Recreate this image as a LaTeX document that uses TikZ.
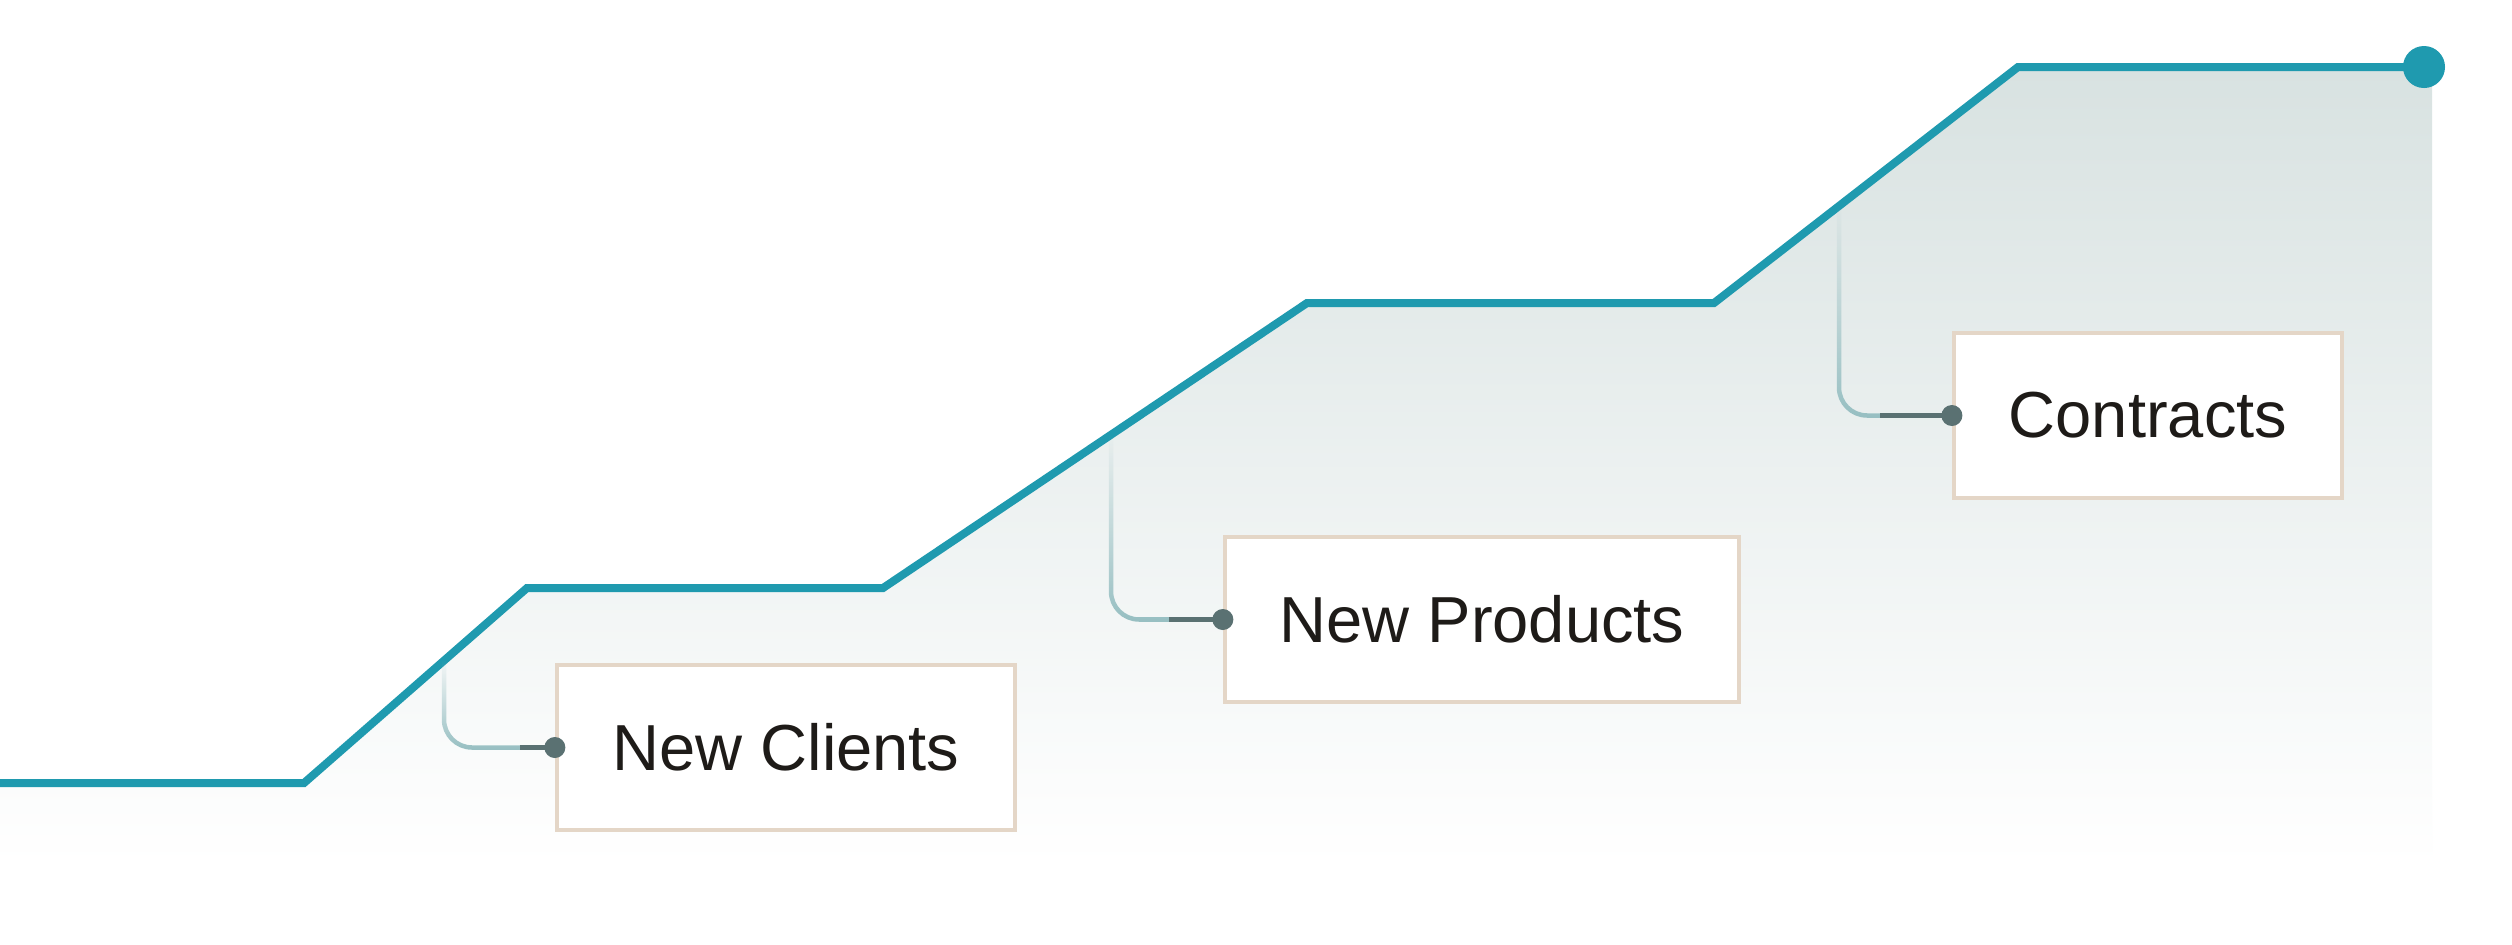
\documentclass[tikz,border=0pt]{standalone}
\usepackage{fontspec}
\setmainfont{Liberation Sans}
\usetikzlibrary{fadings}
\definecolor{stepteal}{HTML}{1F9AAF}
\definecolor{areatop}{HTML}{D8E2E1}
\definecolor{areamid}{HTML}{E7EDEC}
\definecolor{boxline}{HTML}{E4D6C7}
\definecolor{linklight}{HTML}{97BFC2}
\definecolor{linkdark}{HTML}{5A7172}
\definecolor{labeltext}{HTML}{1E1B18}
\tikzfading[name=linkfade, top color=transparent!100, middle color=transparent!25, bottom color=transparent!0]
\tikzset{
  stepline/.style={draw=stepteal, line width=0.08cm},
  enddot/.style={circle, fill=stepteal, minimum size=0.42cm, inner sep=0pt},
  labelbox/.style={draw=boxline, line width=0.04cm, fill=white, minimum height=1.64cm,
    inner sep=0pt, text=labeltext, font=\fontsize{18.5}{22}\selectfont},
  linkdot/.style={circle, fill=linkdark, minimum size=0.21cm, inner sep=0pt},
  linkline/.style={draw=linklight, line width=0.045cm, rounded corners=0.28cm, path fading=linkfade},
  linkend/.style={draw=linkdark, line width=0.045cm}
}
\begin{document}
\begin{tikzpicture}[x=0.01cm, y=-0.01cm]
                \useasboundingbox (0,0) rectangle (2512,944);
                \fill[white] (0,0) rectangle (2512,944);

                \coordinate (p0) at (0,783);
                \coordinate (p1) at (304,783);
                \coordinate (p2) at (527,588);
                \coordinate (p3) at (883,588);
                \coordinate (p4) at (1307,303);
                \coordinate (p5) at (1714,303);
                \coordinate (p6) at (2018,67);
                \coordinate (p7) at (2424,67);

                \shade[top color=areatop, middle color=areamid, bottom color=white]
                    (p0) -- (p1) -- (p2) -- (p3) -- (p4) -- (p5) -- (p6) -- (p7)
                    -- (2432,67) -- (2432,865) -- (0,865) -- cycle;

                \draw[stepline] (p0) -- (p1) -- (p2) -- (p3) -- (p4) -- (p5) -- (p6) -- (p7);
                \node[enddot] (finish) at (p7) {};

                \node[labelbox, minimum width=4.58cm] (clients) at (786,747.5) {New Clients};
                \node[labelbox, minimum width=5.14cm] (products) at (1482,619.5) {New Products};
                \node[labelbox, minimum width=3.88cm] (contracts) at (2148,415.5) {Contracts};

                \coordinate (t1) at (444,661);
                \coordinate (t2) at (1111,435);
                \coordinate (t3) at (1839,206);

                \draw[linkline] (t1) |- (clients.west);
                \draw[linkline] (t2) |- (products.west);
                \draw[linkline] (t3) |- (contracts.west);

                \draw[linkend] ([xshift=-0.35cm]clients.west) -- (clients.west);
                \draw[linkend] ([xshift=-0.54cm]products.west) -- (products.west);
                \draw[linkend] ([xshift=-0.72cm]contracts.west) -- (contracts.west);

                \node[linkdot] (d1) at (clients.west) {};
                \node[linkdot] (d2) at (products.west) {};
                \node[linkdot] (d3) at (contracts.west) {};
            \end{tikzpicture}
\end{document}
